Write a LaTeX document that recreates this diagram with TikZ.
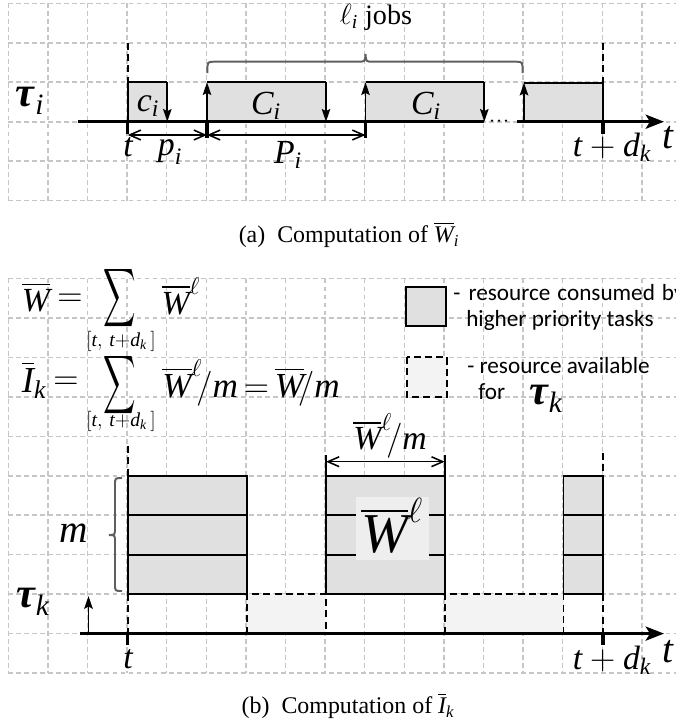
\documentclass[tikz,border=0pt]{standalone}
\usepackage{amsmath}
\usepackage{graphicx}
\usepackage{fontspec}
\setmainfont{Liberation Serif}
\newfontfamily\legendfont{Carlito}
\usetikzlibrary{arrows.meta}
\definecolor{gridc}{RGB}{198,198,198}
\definecolor{busy}{RGB}{224,224,224}
\definecolor{freec}{RGB}{243,243,243}
\definecolor{bracec}{RGB}{95,95,95}
\definecolor{labbg}{RGB}{238,238,238}
\newcommand{\mv}[1]{\textit{#1}}
\newcommand{\tauv}{\textbf{\textit{τ}}}
\newcommand{\fs}[1]{\fontsize{#1}{#1}\selectfont}
\newcommand{\bigsum}{\scalebox{1.6}[2.9]{$\displaystyle\sum$}}
\begin{document}
\begin{tikzpicture}[x=0.025cm,y=-0.025cm,
  gridline/.style={gridc, line width=1.1pt, dash pattern=on 3.5pt off 2.2pt},
  boxline/.style={line width=1.4pt},
  axisline/.style={line width=2.2pt, -{Stealth[length=13pt,width=10pt,inset=3pt]}},
  tickline/.style={line width=2.2pt},
  upd/.style={boxline, -{Stealth[length=9pt,width=6pt,inset=1.5pt]}},
  dimarrow/.style={line width=1.1pt, {Straight Barb[length=8pt,width=7pt]}-{Straight Barb[length=8pt,width=7pt]}},
  vdash/.style={line width=1.4pt, dash pattern=on 5pt off 3pt},
  bracepath/.style={bracec, line width=1.4pt},
  lab/.style={inner sep=0pt},
  legtext/.style={inner sep=0pt, anchor=west, font=\legendfont\fs{16.5}},
]
\useasboundingbox (0,0) rectangle (676,725);
\clip (0,0) rectangle (676,725);
% ---------- grids
\foreach \i in {0,...,17} {
  \draw[gridline] ({8.3+39.6*\i},3.3) -- ({8.3+39.6*\i},200.7);
  \draw[gridline] ({8.3+39.6*\i},278.5) -- ({8.3+39.6*\i},673);
}
\foreach \j in {0,...,5} \draw[gridline] (8.3,{3.3+39.48*\j}) -- (690,{3.3+39.48*\j});
\foreach \j in {0,...,10} \draw[gridline] (8.3,{278.5+39.45*\j}) -- (690,{278.5+39.45*\j});

% ---------- top panel
\fill[busy] (127.7,82.3) rectangle (167.3,121.7);
\fill[busy] (207,82.3) rectangle (326,121.7);
\fill[busy] (365.5,82.3) rectangle (484.3,121.7);
\fill[busy] (524,82.7) rectangle (603,121.7);
\draw[boxline] (127.7,121.7) -- (127.7,82.3) -- (167.3,82.3);
\draw[upd] (167.3,82.3) -- (167.3,121.7);
\draw[upd] (207,121.7) -- (207,82.3);
\draw[boxline] (207,82.3) -- (326,82.3);
\draw[upd] (326,82.3) -- (326,121.7);
\draw[upd] (365.5,121.7) -- (365.5,82.3);
\draw[boxline] (365.5,82.3) -- (484.3,82.3);
\draw[upd] (484.3,82.3) -- (484.3,121.7);
\draw[upd] (524,121.7) -- (524,82.7);
\draw[boxline] (524,82.7) -- (603,82.7) -- (603,121.7);
\draw[vdash] (127.7,42.8) -- (127.7,82.3);
\draw[vdash] (603,42.8) -- (603,82.7);
\draw[tickline] (78,121.7) -- (484.3,121.7);
\draw[axisline] (517,121.7) -- (664,121.7);
\foreach \x in {492,499,506} \fill (\x,120.6) circle (0.9pt);
\draw[tickline] (127.7,121.7) -- (127.7,133.5);
\draw[tickline] (207,121.7) -- (207,138);
\draw[tickline] (365.5,121.7) -- (365.5,138);
\draw[tickline] (603,121.7) -- (603,133.5);
\draw[dimarrow] (127.7,135) -- (207,135);
\draw[dimarrow] (207,135) -- (365.5,135);
\draw[bracepath] (207.3,73) .. controls (207.3,61.7) .. (214,61.7) -- (358,61.7)
  .. controls (365,61.7) .. (365.5,54) .. controls (366,61.7) .. (373,61.7) -- (516,61.7)
  .. controls (522.7,61.7) .. (522.7,73);
\node[lab] (taui) at (30,101) {\fs{30}$\tauv_{\mv{i}}$};
\node[lab] (ci) at (148,106) {\fs{24}$\mv{c}_{\mv{i}}$};
\node[lab] (Ci1) at (266,106) {\fs{24}$\mv{C}_{\mv{i}}$};
\node[lab] (Ci2) at (426,106) {\fs{24}$\mv{C}_{\mv{i}}$};
\node[lab] (ta) at (128,147) {\fs{24}$\mv{t}$};
\node[lab] (pi) at (170,152) {\fs{24}$\mv{p}_{\mv{i}}$};
\node[lab] (Pi) at (288,155) {\fs{24}$\mv{P}_{\mv{i}}$};
\node[lab] (tda) at (612,147) {\fs{24}$\mv{t}+\mv{d}_{\mv{k}}$};
\node[lab] (taxa) at (668,138) {\fs{28}\mv{t}};
\node[lab] (jobs) at (376,17) {\fs{20}$\ell_{\mv{i}}$ jobs};
\node[lab] (capa) at (349,235) {\fs{17}(a)~~Computation of $\overline{\mv{W}}_{\mv{i}}$};

% ---------- bottom panel
% equations
\node[lab] (e1W) at (36,297) {\fs{24}$\overline{\mv{W}}$};
\node[lab] (e1eq) at (70,300) {\fs{24}$=$};
\node[lab] (e1S) at (120,298) {\bigsum};
\node[lab] (e1sub) at (121,341) {\fs{14}$[\mv{t},\,\mv{t}{+}\mv{d}_{\mv{k}}\,]$};
\node[lab] (e1Wl) at (181,296) {\fs{24}$\overline{\mv{W}}^{\ell}$};
\node[lab] (e2I) at (34,380) {\fs{26}$\overline{\mv{I}}_{\mv{k}}$};
\node[lab] (e2eq) at (66,383) {\fs{24}$=$};
\node[lab] (e2S) at (120,385) {\bigsum};
\node[lab] (e2sub) at (121,421) {\fs{14}$[\mv{t},\,\mv{t}{+}\mv{d}_{\mv{k}}\,]$};
\node[lab] (e2r) at (251,383) {\fs{25}$\overline{\mv{W}}^{\ell}\!/\mv{m}\,{=}\,\overline{\mv{W}}\!/\mv{m}$};
% legend
\draw[boxline, fill=busy] (406,287) rectangle (446,326);
\node[legtext] (l1) at (453,294) {-\hspace{0.35em}resource\hspace{0.3em}consumed\hspace{0.3em}by};
\node[legtext] (l2) at (466,320) {higher priority tasks};
\draw[vdash, fill=freec] (407,357) rectangle (447,397);
\node[legtext] (l3) at (467,366) {- resource available};
\node[legtext] (l4) at (478,392) {for};
\node[lab] (tauk2) at (546,399) {\fs{30}$\tauv_{\mv{k}}$};
% blocks
\foreach \xa/\xb in {127.7/246.7, 326/444.7, 563.5/603} {
  \draw[boxline, fill=busy] (\xa,475.8) rectangle (\xb,594.1);
  \draw[boxline] (\xa,515.2) -- (\xb,515.2);
  \draw[boxline] (\xa,554.7) -- (\xb,554.7);
}
\fill[freec] (246.7,594.1) rectangle (326,633.6);
\fill[freec] (444.7,594.1) rectangle (563.5,633.6);
\draw[vdash] (246.7,633.6) -- (246.7,594.1) -- (326,594.1) -- (326,633.6);
\draw[vdash] (444.7,633.6) -- (444.7,594.1) -- (563.5,594.1) -- (563.5,633.6);
\draw[vdash] (127.7,446) -- (127.7,475.8);
\draw[vdash] (127.7,594.1) -- (127.7,633.6);
\draw[vdash] (603,453) -- (603,475.8);
\draw[vdash] (603,594.1) -- (603,633.6);
\fill[labbg] (356,497) rectangle (429,560);
\node[lab] (Wl) at (392,526) {\fs{40}$\overline{\mv{W}}^{\ell}$};
\draw[boxline] (326,455) -- (326,475.8);
\draw[boxline] (444.7,455) -- (444.7,475.8);
\draw[dimarrow] (326,461.7) -- (444.7,461.7);
\node[lab] (Wlm) at (390,436) {\fs{24}$\overline{\mv{W}}^{\ell}\!/\mv{m}$};
\draw[bracepath] (122,478) .. controls (115,478) .. (115,485) -- (115,528)
  .. controls (115,535) .. (109,535) .. controls (115,535) .. (115,542) -- (115,584)
  .. controls (115,591) .. (122,591);
\node[lab] (m) at (74,533) {\fs{28}$\mv{m}$};
% axis
\draw[axisline] (80,633.6) -- (664,633.6);
\draw[tickline] (127.7,633.6) -- (127.7,645);
\draw[tickline] (603,633.6) -- (603,645);
\draw[upd] (88.5,633.6) -- (88.5,596);
\node[lab] (tauk) at (33,602) {\fs{30}$\tauv_{\mv{k}}$};
\node[lab] (tb) at (128,659) {\fs{24}$\mv{t}$};
\node[lab] (tdb) at (612,660) {\fs{24}$\mv{t}+\mv{d}_{\mv{k}}$};
\node[lab] (taxb) at (668,652) {\fs{28}\mv{t}};
\node[lab] (capb) at (348,706) {\fs{17}(b)~~Computation of $\overline{\mv{I}}_{\mv{k}}$};
\end{tikzpicture}
\end{document}
